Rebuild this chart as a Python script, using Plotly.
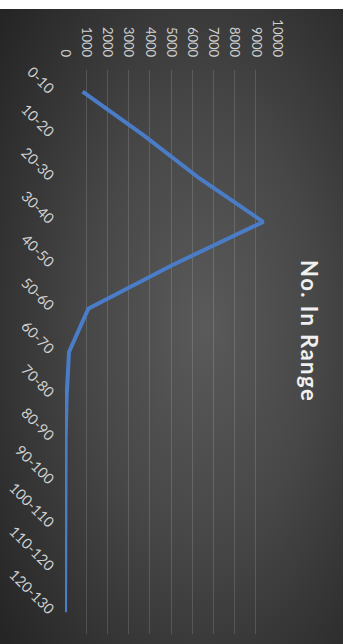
import base64
import plotly.graph_objects as go

# Counts per range bucket
ranges = ["0-10", "10-20", "20-30", "30-40", "40-50", "50-60", "60-70",
          "70-80", "80-90", "90-100", "100-110", "110-120", "120-130"]
counts = [830, 3700, 6350, 9350, 5050, 1100, 190, 80, 30, 15, 8, 5, 3]
value_ticks = [0, 1000, 2000, 3000, 4000, 5000, 6000, 7000, 8000, 9000, 10000]
value_labels = [str(v) for v in value_ticks]

W, H = 348, 644
L, R, T, B = 65, 71, 70, 10
pw, ph = W - L - R, H - T - B

# Dark radial-gradient backdrop as an SVG image
svg = """<svg xmlns='http://www.w3.org/2000/svg' width='343' height='635' viewBox='0 0 343 635' preserveAspectRatio='none'>
<defs><radialGradient id='g' cx='0.58' cy='0.5' r='0.75' fx='0.6' fy='0.5'>
<stop offset='0' stop-color='#5a5a5a'/>
<stop offset='0.45' stop-color='#474747'/>
<stop offset='1' stop-color='#252525'/>
</radialGradient></defs>
<rect width='343' height='635' fill='url(#g)'/>
</svg>"""
bg = "data:image/svg+xml;base64," + base64.b64encode(svg.encode()).decode()

def px_x(p):
    return (p - L) / pw

def px_y(p):
    return (H - B - p) / ph

title = "\u200a".join("No. In Range")

fig = go.Figure()
fig.add_trace(go.Scatter(
    x=counts, y=ranges, mode="lines",
    line=dict(color="#4a7cc8", width=4),
    hoverinfo="skip",
))

fig.update_layout(
    width=W, height=H, autosize=False,
    margin=dict(l=L, r=R, t=T, b=B, autoexpand=False),
    paper_bgcolor="white", plot_bgcolor="rgba(0,0,0,0)",
    showlegend=False, hovermode=False,
    images=[dict(source=bg, xref="paper", yref="paper",
                 x=px_x(0), y=px_y(9), sizex=px_x(343) - px_x(0),
                 sizey=px_y(9) - px_y(644), xanchor="left", yanchor="top",
                 sizing="stretch", layer="below")],
    xaxis=dict(side="top", range=[0, 10000], tickvals=value_ticks,
               ticktext=value_labels,
               tickangle=90, showgrid=True, gridcolor="rgba(255,255,255,0.14)",
               gridwidth=1, zeroline=False, showline=False, ticks="",
               ticklabelstandoff=10,
               tickfont=dict(family="Lato", size=13, color="#d0d0d0")),
    yaxis=dict(type="category", categoryorder="array", categoryarray=ranges,
               range=[12.5, -0.5], tickangle=45, showgrid=False,
               zeroline=False, showline=False, ticks="", ticklabelstandoff=11,
               tickfont=dict(family="Lato", size=14.5, color="#d0d0d0")),
    annotations=[dict(text="<b>" + title + "</b>", textangle=90,
                      xref="paper", yref="paper", x=px_x(310), y=px_y(330),
                      showarrow=False, xanchor="center", yanchor="middle",
                      font=dict(family="Lato", size=22, color="#f0f0f0"))],
)

fig.write_html("out.html", config={"displayModeBar": False})
